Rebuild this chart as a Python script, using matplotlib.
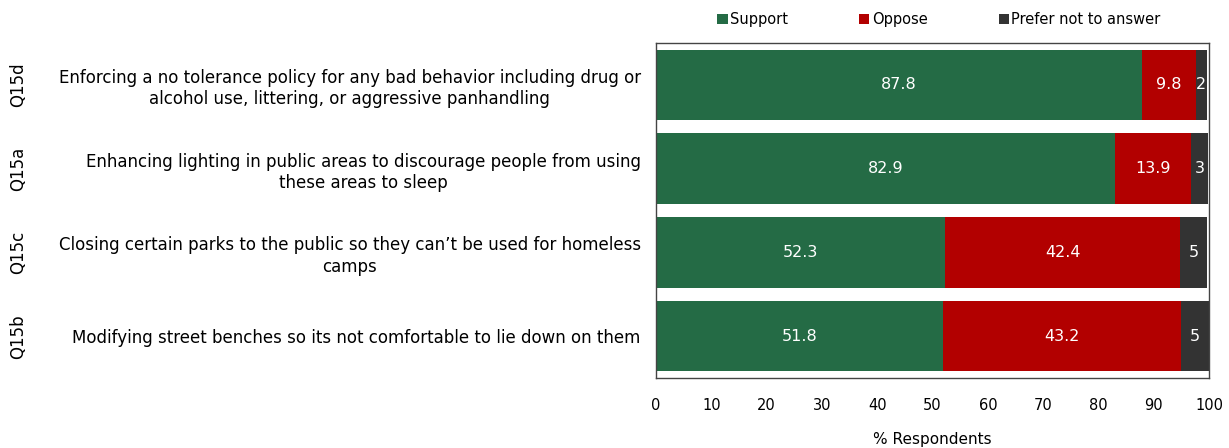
import matplotlib
matplotlib.use("Agg")
import matplotlib.pyplot as plt
import numpy as np

# ==============================
# Data
# ==============================
codes = ["Q15d", "Q15a", "Q15c", "Q15b"]
items = [
    "Enforcing a no tolerance policy for any bad behavior including drug or\nalcohol use, littering, or aggressive panhandling",
    "Enhancing lighting in public areas to discourage people from using\nthese areas to sleep",
    "Closing certain parks to the public so they can\u2019t be used for homeless\ncamps",
    "Modifying street benches so its not comfortable to lie down on them",
]
support = [87.8, 82.9, 52.3, 51.8]
oppose = [9.8, 13.9, 42.4, 43.2]
no_answer = [2, 3, 5, 5]

series = [
    ("Support", support, "#246b45"),
    ("Oppose", oppose, "#b20000"),
    ("Prefer not to answer", no_answer, "#333333"),
]

plt.rcParams["font.family"] = "DejaVu Sans"

fig = plt.figure(figsize=(12.29, 4.48), dpi=100)
ax = fig.add_axes([0.5338, 0.156, 0.450, 0.748])

y = np.arange(len(items))
left = np.zeros(len(items))
for name, vals, color in series:
    vals = np.array(vals, dtype=float)
    bars = ax.barh(y, vals, left=left, height=0.84, color=color, label=name)
    for b, v in zip(bars, vals):
        ax.text(b.get_x() + b.get_width() / 2, b.get_y() + b.get_height() / 2,
                f"{v:g}", ha="center", va="center", color="white", fontsize=11.5)
    left += vals

ax.set_xlim(0, 100)
ax.set_ylim(len(items) - 0.5, -0.5)
ax.set_xticks(range(0, 101, 10))
ax.set_yticks(y)
ax.set_yticklabels(items, fontsize=12)
for lbl in ax.get_yticklabels():
    lbl.set_multialignment("center")
    lbl.set_linespacing(1.25)
ax.tick_params(axis="y", length=0, pad=11)
ax.tick_params(axis="x", length=0, pad=14, labelsize=10.5)
ax.set_xlabel("% Respondents", fontsize=11, labelpad=14)

for s in ax.spines.values():
    s.set_color("#444444")
    s.set_linewidth(1)

# question codes down the far left
for yi, code in zip(y, codes):
    ax.text(-1.154, yi, code, transform=ax.get_yaxis_transform(), rotation=90,
            ha="center", va="center", fontsize=12)

fig.legend(loc="center", bbox_to_anchor=(0.764, 0.956), ncol=3, frameon=False,
           handlelength=0.7, handleheight=0.7, handletextpad=0.15,
           columnspacing=4.9, fontsize=10.5)

fig.savefig("out.png", dpi=100)
